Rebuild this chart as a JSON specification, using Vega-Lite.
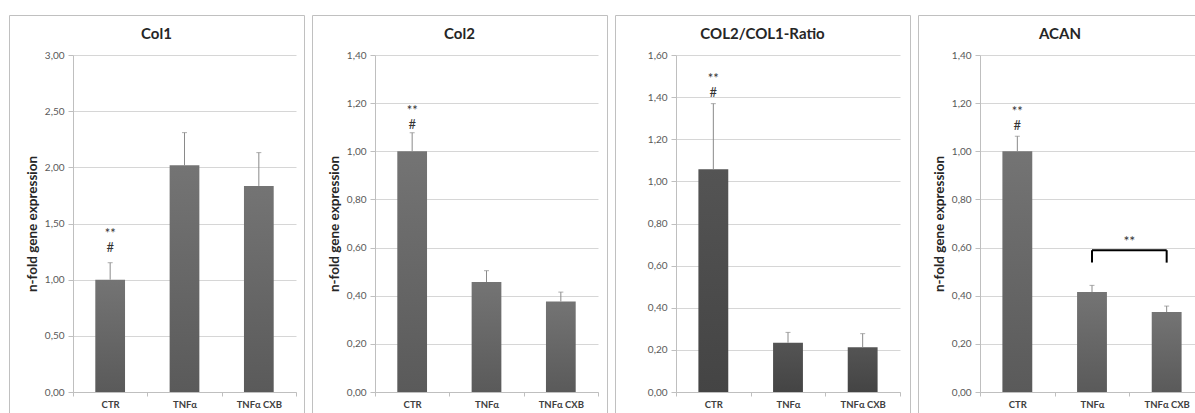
{
  "$schema": "https://vega.github.io/schema/vega-lite/v6.json",
  "background": "white",
  "padding": {"left": 8, "top": 14, "right": 0, "bottom": 0},
  "spacing": 6,
  "config": {
    "font": "Lato",
    "view": {"stroke": "#c0c0c0", "strokeWidth": 1},
    "title": {"fontSize": 15, "fontWeight": "bold", "color": "#262626", "anchor": "middle", "frame": "group", "offset": -27},
    "axisY": {"grid": true, "gridColor": "#d6d6d6", "domainColor": "#bfbfbf", "tickColor": "#bfbfbf", "tickSize": 5, "labelFontSize": 10, "labelColor": "#595959", "labelPadding": 4, "titleFontSize": 13.5, "titleFontWeight": "bold", "titleColor": "#262626", "titlePadding": 5, "labelExpr": "replace(format(datum.value, '.2f'), '.', ',')"},
    "axisX": {"grid": false, "title": null, "labelAngle": 0, "tickBand": "extent", "tickSize": 4, "tickColor": "#bfbfbf", "domainColor": "#bfbfbf", "labelFontWeight": "bold", "labelFontSize": 9.5, "labelColor": "#404040", "labelPadding": 3}
  },
  "datasets": {
    "bars": [
      {"gene": "Col1", "group": "CTR", "value": 1.0, "err": 1.151},
      {"gene": "Col1", "group": "TNFα", "value": 2.018, "err": 2.309},
      {"gene": "Col1", "group": "TNFα CXB", "value": 1.834, "err": 2.131},
      {"gene": "Col2", "group": "CTR", "value": 1.0, "err": 1.077},
      {"gene": "Col2", "group": "TNFα", "value": 0.457, "err": 0.504},
      {"gene": "Col2", "group": "TNFα CXB", "value": 0.376, "err": 0.415},
      {"gene": "Ratio", "group": "CTR", "value": 1.057, "err": 1.369},
      {"gene": "Ratio", "group": "TNFα", "value": 0.234, "err": 0.283},
      {"gene": "Ratio", "group": "TNFα CXB", "value": 0.213, "err": 0.277},
      {"gene": "ACAN", "group": "CTR", "value": 1.0, "err": 1.0625},
      {"gene": "ACAN", "group": "TNFα", "value": 0.415, "err": 0.443},
      {"gene": "ACAN", "group": "TNFα CXB", "value": 0.332, "err": 0.357}
    ],
    "annot": [
      {"gene": "Col1", "group": "CTR", "y": 1.371, "label": "**\n#"},
      {"gene": "Col2", "group": "CTR", "y": 1.152, "label": "**\n#"},
      {"gene": "Ratio", "group": "CTR", "y": 1.467, "label": "**\n#"},
      {"gene": "ACAN", "group": "CTR", "y": 1.145, "label": "**\n#"}
    ],
    "bracketH": [{"group": "TNFα", "group2": "TNFα CXB", "y": 0.589}],
    "bracketV": [
      {"group": "TNFα", "y": 0.589, "y2": 0.5375},
      {"group": "TNFα CXB", "y": 0.589, "y2": 0.5375}
    ],
    "bracketLabel": [{"group": "TNFα", "y": 0.605, "label": "**"}]
  },
  "hconcat": [
    {
      "width": 295, "height": 399,
      "title": {"text": "Col1"},
      "encoding": {"x": {"field": "group", "type": "nominal", "sort": ["CTR", "TNFα", "TNFα CXB"], "scale": {"range": [64, 287], "paddingInner": 0, "paddingOuter": 0}, "axis": {"offset": -22}}},
      "layer": [
        {"data": {"name": "bars"}, "transform": [{"filter": "datum.gene === 'Col1'"}],
         "mark": {"type": "bar", "width": {"band": 0.4}, "color": {"gradient": "linear", "x1": 0, "y1": 0, "x2": 0, "y2": 1, "stops": [{"offset": 0, "color": "#747474"}, {"offset": 1, "color": "#5a5a5a"}]}},
         "encoding": {"y": {"field": "value", "type": "quantitative", "scale": {"domain": [0, 3], "range": [377, 40], "nice": false}, "axis": {"offset": -64, "values": [0, 0.5, 1, 1.5, 2, 2.5, 3], "title": "n-fold gene expression"}}}},
        {"data": {"name": "bars"}, "transform": [{"filter": "datum.gene === 'Col1'"}],
         "mark": {"type": "rule", "color": "#8a8a8a", "strokeWidth": 1},
         "encoding": {"y": {"field": "value", "type": "quantitative", "scale": {"domain": [0, 3], "range": [377, 40], "nice": false}, "axis": {"offset": -64, "values": [0, 0.5, 1, 1.5, 2, 2.5, 3], "title": "n-fold gene expression"}}, "y2": {"field": "err"}}},
        {"data": {"name": "bars"}, "transform": [{"filter": "datum.gene === 'Col1'"}],
         "mark": {"type": "tick", "orient": "horizontal", "size": 5, "thickness": 1, "color": "#8a8a8a"},
         "encoding": {"y": {"field": "err", "type": "quantitative", "scale": {"domain": [0, 3], "range": [377, 40], "nice": false}, "axis": {"offset": -64, "values": [0, 0.5, 1, 1.5, 2, 2.5, 3], "title": "n-fold gene expression"}}}},
        {"data": {"name": "annot"}, "transform": [{"filter": "datum.gene === 'Col1'"}],
         "mark": {"type": "text", "fontSize": 13, "color": "#333333", "baseline": "alphabetic", "lineBreak": "\n", "lineHeight": 14},
         "encoding": {"y": {"field": "y", "type": "quantitative", "scale": {"domain": [0, 3], "range": [377, 40], "nice": false}, "axis": {"offset": -64, "values": [0, 0.5, 1, 1.5, 2, 2.5, 3], "title": "n-fold gene expression"}}, "text": {"field": "label"}}}
      ]
    },
    {
      "width": 295, "height": 399,
      "title": {"text": "Col2"},
      "encoding": {"x": {"field": "group", "type": "nominal", "sort": ["CTR", "TNFα", "TNFα CXB"], "scale": {"range": [63, 286], "paddingInner": 0, "paddingOuter": 0}, "axis": {"offset": -22}}},
      "layer": [
        {"data": {"name": "bars"}, "transform": [{"filter": "datum.gene === 'Col2'"}],
         "mark": {"type": "bar", "width": {"band": 0.4}, "color": {"gradient": "linear", "x1": 0, "y1": 0, "x2": 0, "y2": 1, "stops": [{"offset": 0, "color": "#747474"}, {"offset": 1, "color": "#5a5a5a"}]}},
         "encoding": {"y": {"field": "value", "type": "quantitative", "scale": {"domain": [0, 1.4], "range": [377, 40], "nice": false}, "axis": {"offset": -63, "values": [0, 0.2, 0.4, 0.6, 0.8, 1.0, 1.2, 1.4], "title": "n-fold gene expression"}}}},
        {"data": {"name": "bars"}, "transform": [{"filter": "datum.gene === 'Col2'"}],
         "mark": {"type": "rule", "color": "#8a8a8a", "strokeWidth": 1},
         "encoding": {"y": {"field": "value", "type": "quantitative", "scale": {"domain": [0, 1.4], "range": [377, 40], "nice": false}, "axis": {"offset": -63, "values": [0, 0.2, 0.4, 0.6, 0.8, 1.0, 1.2, 1.4], "title": "n-fold gene expression"}}, "y2": {"field": "err"}}},
        {"data": {"name": "bars"}, "transform": [{"filter": "datum.gene === 'Col2'"}],
         "mark": {"type": "tick", "orient": "horizontal", "size": 5, "thickness": 1, "color": "#8a8a8a"},
         "encoding": {"y": {"field": "err", "type": "quantitative", "scale": {"domain": [0, 1.4], "range": [377, 40], "nice": false}, "axis": {"offset": -63, "values": [0, 0.2, 0.4, 0.6, 0.8, 1.0, 1.2, 1.4], "title": "n-fold gene expression"}}}},
        {"data": {"name": "annot"}, "transform": [{"filter": "datum.gene === 'Col2'"}],
         "mark": {"type": "text", "fontSize": 13, "color": "#333333", "baseline": "alphabetic", "lineBreak": "\n", "lineHeight": 14},
         "encoding": {"y": {"field": "y", "type": "quantitative", "scale": {"domain": [0, 1.4], "range": [377, 40], "nice": false}, "axis": {"offset": -63, "values": [0, 0.2, 0.4, 0.6, 0.8, 1.0, 1.2, 1.4], "title": "n-fold gene expression"}}, "text": {"field": "label"}}}
      ]
    },
    {
      "width": 295, "height": 399,
      "title": {"text": "COL2/COL1-Ratio"},
      "encoding": {"x": {"field": "group", "type": "nominal", "sort": ["CTR", "TNFα", "TNFα CXB"], "scale": {"range": [61, 285], "paddingInner": 0, "paddingOuter": 0}, "axis": {"offset": -22}}},
      "layer": [
        {"data": {"name": "bars"}, "transform": [{"filter": "datum.gene === 'Ratio'"}],
         "mark": {"type": "bar", "width": {"band": 0.4}, "color": {"gradient": "linear", "x1": 0, "y1": 0, "x2": 0, "y2": 1, "stops": [{"offset": 0, "color": "#545454"}, {"offset": 1, "color": "#444444"}]}},
         "encoding": {"y": {"field": "value", "type": "quantitative", "scale": {"domain": [0, 1.6], "range": [377, 40], "nice": false}, "axis": {"offset": -61, "values": [0, 0.2, 0.4, 0.6, 0.8, 1.0, 1.2, 1.4, 1.6], "title": null}}}},
        {"data": {"name": "bars"}, "transform": [{"filter": "datum.gene === 'Ratio'"}],
         "mark": {"type": "rule", "color": "#8a8a8a", "strokeWidth": 1},
         "encoding": {"y": {"field": "value", "type": "quantitative", "scale": {"domain": [0, 1.6], "range": [377, 40], "nice": false}, "axis": {"offset": -61, "values": [0, 0.2, 0.4, 0.6, 0.8, 1.0, 1.2, 1.4, 1.6], "title": null}}, "y2": {"field": "err"}}},
        {"data": {"name": "bars"}, "transform": [{"filter": "datum.gene === 'Ratio'"}],
         "mark": {"type": "tick", "orient": "horizontal", "size": 5, "thickness": 1, "color": "#8a8a8a"},
         "encoding": {"y": {"field": "err", "type": "quantitative", "scale": {"domain": [0, 1.6], "range": [377, 40], "nice": false}, "axis": {"offset": -61, "values": [0, 0.2, 0.4, 0.6, 0.8, 1.0, 1.2, 1.4, 1.6], "title": null}}}},
        {"data": {"name": "annot"}, "transform": [{"filter": "datum.gene === 'Ratio'"}],
         "mark": {"type": "text", "fontSize": 13, "color": "#333333", "baseline": "alphabetic", "lineBreak": "\n", "lineHeight": 14},
         "encoding": {"y": {"field": "y", "type": "quantitative", "scale": {"domain": [0, 1.6], "range": [377, 40], "nice": false}, "axis": {"offset": -61, "values": [0, 0.2, 0.4, 0.6, 0.8, 1.0, 1.2, 1.4, 1.6], "title": null}}, "text": {"field": "label"}}}
      ]
    },
    {
      "width": 284, "height": 399,
      "title": {"text": "ACAN"},
      "encoding": {"x": {"field": "group", "type": "nominal", "sort": ["CTR", "TNFα", "TNFα CXB"], "scale": {"range": [62, 286], "paddingInner": 0, "paddingOuter": 0}, "axis": {"offset": -22}}},
      "layer": [
        {"data": {"name": "bars"}, "transform": [{"filter": "datum.gene === 'ACAN'"}],
         "mark": {"type": "bar", "width": {"band": 0.4}, "color": {"gradient": "linear", "x1": 0, "y1": 0, "x2": 0, "y2": 1, "stops": [{"offset": 0, "color": "#747474"}, {"offset": 1, "color": "#5a5a5a"}]}},
         "encoding": {"y": {"field": "value", "type": "quantitative", "scale": {"domain": [0, 1.4], "range": [377, 40], "nice": false}, "axis": {"offset": -62, "values": [0, 0.2, 0.4, 0.6, 0.8, 1.0, 1.2, 1.4], "title": "n-fold gene expression"}}}},
        {"data": {"name": "bars"}, "transform": [{"filter": "datum.gene === 'ACAN'"}],
         "mark": {"type": "rule", "color": "#8a8a8a", "strokeWidth": 1},
         "encoding": {"y": {"field": "value", "type": "quantitative", "scale": {"domain": [0, 1.4], "range": [377, 40], "nice": false}, "axis": {"offset": -62, "values": [0, 0.2, 0.4, 0.6, 0.8, 1.0, 1.2, 1.4], "title": "n-fold gene expression"}}, "y2": {"field": "err"}}},
        {"data": {"name": "bars"}, "transform": [{"filter": "datum.gene === 'ACAN'"}],
         "mark": {"type": "tick", "orient": "horizontal", "size": 5, "thickness": 1, "color": "#8a8a8a"},
         "encoding": {"y": {"field": "err", "type": "quantitative", "scale": {"domain": [0, 1.4], "range": [377, 40], "nice": false}, "axis": {"offset": -62, "values": [0, 0.2, 0.4, 0.6, 0.8, 1.0, 1.2, 1.4], "title": "n-fold gene expression"}}}},
        {"data": {"name": "annot"}, "transform": [{"filter": "datum.gene === 'ACAN'"}],
         "mark": {"type": "text", "fontSize": 13, "color": "#333333", "baseline": "alphabetic", "lineBreak": "\n", "lineHeight": 14},
         "encoding": {"y": {"field": "y", "type": "quantitative", "scale": {"domain": [0, 1.4], "range": [377, 40], "nice": false}, "axis": {"offset": -62, "values": [0, 0.2, 0.4, 0.6, 0.8, 1.0, 1.2, 1.4], "title": "n-fold gene expression"}}, "text": {"field": "label"}}},
        {"data": {"name": "bracketH"},
         "mark": {"type": "rule", "color": "#000000", "strokeWidth": 2},
         "encoding": {"x2": {"field": "group2"}, "y": {"field": "y", "type": "quantitative", "scale": {"domain": [0, 1.4], "range": [377, 40], "nice": false}, "axis": {"offset": -62, "values": [0, 0.2, 0.4, 0.6, 0.8, 1.0, 1.2, 1.4], "title": "n-fold gene expression"}}}},
        {"data": {"name": "bracketV"},
         "mark": {"type": "rule", "color": "#000000", "strokeWidth": 2},
         "encoding": {"y": {"field": "y", "type": "quantitative", "scale": {"domain": [0, 1.4], "range": [377, 40], "nice": false}, "axis": {"offset": -62, "values": [0, 0.2, 0.4, 0.6, 0.8, 1.0, 1.2, 1.4], "title": "n-fold gene expression"}}, "y2": {"field": "y2"}}},
        {"data": {"name": "bracketLabel"},
         "mark": {"type": "text", "fontSize": 14, "color": "#333333", "baseline": "alphabetic"},
         "encoding": {"x": {"field": "group", "type": "nominal", "bandPosition": 1}, "y": {"field": "y", "type": "quantitative", "scale": {"domain": [0, 1.4], "range": [377, 40], "nice": false}, "axis": {"offset": -62, "values": [0, 0.2, 0.4, 0.6, 0.8, 1.0, 1.2, 1.4], "title": "n-fold gene expression"}}, "text": {"field": "label"}}}
      ]
    }
  ]
}
